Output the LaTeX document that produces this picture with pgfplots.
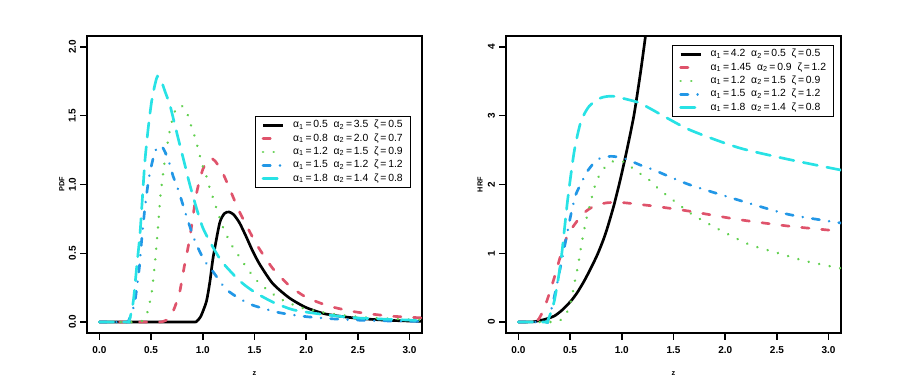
\documentclass[border=0pt]{standalone}
\usepackage{fontspec}
\setmainfont{Liberation Sans}
\usepackage{pgfplots}
\pgfplotsset{compat=1.18}

\definecolor{rred}{HTML}{DF536B}
\definecolor{rgreen}{HTML}{61D04F}
\definecolor{rblue}{HTML}{2297E6}
\definecolor{rcyan}{HTML}{28E2E5}

\pgfplotsset{
  rbase/.style={
    scale only axis, width=251.25pt, height=222.75pt,
    axis line style={line width=1.1pt},
    every tick/.style={black, line width=1.1pt},
    tick align=outside, major tick length=5pt,
    xtick pos=bottom, ytick pos=left,
    xmin=-0.12, xmax=3.12,
    xtick={0,0.5,1,1.5,2,2.5,3},
    xticklabels={0.0,0.5,1.0,1.5,2.0,2.5,3.0},
    tick label style={font=\bfseries\fontsize{7.5}{9}\selectfont},
    xticklabel style={anchor=center, yshift=-8pt},
    yticklabel style={xshift=-6pt, rotate=90, anchor=center},
    label style={font=\bfseries\fontsize{5.5}{6}\selectfont},
    xlabel={z},
    xlabel style={at={(axis description cs:0.5,-0.138)}, anchor=center},
    legend cell align=left,
    legend image code/.code={\draw[#1] (0pt,0pt) -- (15pt,0pt);},
    legend style={draw=black, line width=0.6pt, font=\fontsize{7.8}{8.5}\selectfont,
      inner xsep=5pt, inner ysep=2.5pt, row sep=1.6pt,
      nodes={inner sep=0.6pt, text height=5.6pt, text depth=1.6pt},
      /tikz/every odd column/.append style={column sep=6pt}},
    clip=true,
  },
  lt1/.style={black, line width=2pt, solid, smooth, tension=0.4},
  lt2/.style={rred, line width=2pt, dash pattern=on 5.5pt off 9.5pt, line cap=round, smooth, tension=0.4},
  lt3/.style={rgreen, line width=2pt, dash pattern=on 0.01pt off 8pt, line cap=round, smooth, tension=0.4},
  lt4/.style={rblue, line width=2pt, dash pattern=on 5.5pt off 7.25pt on 0.01pt off 7.25pt, line cap=round, smooth, tension=0.4},
  lt5/.style={rcyan, line width=2pt, dash pattern=on 10.75pt off 7.25pt, line cap=round, smooth, tension=0.4},
}

\begin{document}
\begin{tikzpicture}
\path[use as bounding box] (0,0) rectangle (677.25pt,285pt);

% PDF panel
\begin{axis}[rbase,
  at={(65.25pt,35.25pt)}, anchor=south west,
  ymin=-0.08, ymax=2.08,
  ytick={0,0.5,1,1.5,2},
  yticklabels={0.0,0.5,1.0,1.5,2.0},
  ylabel={PDF},
  ylabel style={at={(axis description cs:-0.075,0.5)}, anchor=center},
  legend style={at={(0.966,0.731)}, anchor=north east},
]
\addplot[lt1] coordinates {(0,0) (0.5,0) (0.9,0) (0.94,0.005) (0.98,0.04) (1.035,0.15) (1.07,0.30) (1.10,0.47) (1.163,0.72) (1.21,0.79) (1.255,0.80) (1.30,0.78) (1.356,0.72) (1.42,0.62) (1.48,0.52) (1.55,0.42) (1.676,0.28) (1.837,0.175) (2.0,0.105) (2.19,0.058) (2.48,0.028) (2.8,0.012) (3.12,0.005)};
\addplot[lt2] coordinates {(0,0) (0.55,0) (0.62,0.005) (0.68,0.03) (0.73,0.11) (0.777,0.22) (0.82,0.40) (0.874,0.61) (0.938,0.93) (1.0,1.11) (1.066,1.19) (1.12,1.17) (1.195,1.08) (1.27,0.95) (1.356,0.80) (1.516,0.57) (1.676,0.39) (1.837,0.265) (2.0,0.18) (2.22,0.116) (2.48,0.073) (2.8,0.044) (3.12,0.03)};
\addplot[lt3] coordinates {(0,0) (0.35,0) (0.42,0.01) (0.46,0.06) (0.505,0.21) (0.537,0.43) (0.569,0.71) (0.59,0.915) (0.623,1.12) (0.655,1.28) (0.688,1.42) (0.739,1.55) (0.78,1.575) (0.816,1.56) (0.858,1.50) (0.89,1.42) (0.922,1.35) (0.954,1.26) (0.996,1.14) (1.035,1.06) (1.066,0.976) (1.10,0.90) (1.195,0.69) (1.275,0.564) (1.34,0.49) (1.42,0.40) (1.50,0.32) (1.58,0.26) (1.74,0.172) (1.917,0.113) (2.03,0.09) (2.2,0.065) (2.415,0.044) (2.64,0.03) (2.93,0.02) (3.12,0.015)};
\addplot[lt4] coordinates {(0,0) (0.26,0) (0.28,0.007) (0.31,0.06) (0.344,0.152) (0.386,0.395) (0.408,0.59) (0.44,0.83) (0.473,1.02) (0.498,1.12) (0.537,1.24) (0.57,1.275) (0.60,1.28) (0.633,1.24) (0.681,1.145) (0.713,1.06) (0.761,0.964) (0.842,0.77) (0.89,0.66) (0.938,0.564) (1.018,0.443) (1.083,0.383) (1.163,0.298) (1.227,0.237) (1.34,0.177) (1.484,0.122) (1.74,0.068) (2.0,0.039) (2.32,0.02) (2.64,0.01) (3.12,0.004)};
\addplot[lt5] coordinates {(0,0) (0.27,0) (0.29,0.01) (0.328,0.152) (0.36,0.395) (0.392,0.637) (0.418,0.927) (0.44,1.17) (0.472,1.41) (0.505,1.605) (0.537,1.726) (0.562,1.787) (0.60,1.75) (0.633,1.68) (0.681,1.58) (0.729,1.436) (0.777,1.29) (0.826,1.145) (0.874,1.0) (0.938,0.83) (1.0,0.686) (1.083,0.564) (1.18,0.443) (1.29,0.35) (1.356,0.30) (1.42,0.26) (1.516,0.21) (1.676,0.145) (1.837,0.097) (1.93,0.08) (2.158,0.056) (2.48,0.03) (2.96,0.015) (3.12,0.012)};
\legend{α\textsubscript{1}\,=\,0.5\ \ α\textsubscript{2}\,=\,3.5\ \ ζ\,=\,0.5,
        α\textsubscript{1}\,=\,0.8\ \ α\textsubscript{2}\,=\,2.0\ \ ζ\,=\,0.7,
        α\textsubscript{1}\,=\,1.2\ \ α\textsubscript{2}\,=\,1.5\ \ ζ\,=\,0.9,
        α\textsubscript{1}\,=\,1.5\ \ α\textsubscript{2}\,=\,1.2\ \ ζ\,=\,1.2,
        α\textsubscript{1}\,=\,1.8\ \ α\textsubscript{2}\,=\,1.4\ \ ζ\,=\,0.8}
\end{axis}

% HRF panel
\begin{axis}[rbase,
  at={(379.5pt,35.25pt)}, anchor=south west,
  ymin=-0.16, ymax=4.16,
  ytick={0,1,2,3,4},
  yticklabels={0,1,2,3,4},
  ylabel={HRF},
  ylabel style={at={(axis description cs:-0.077,0.5)}, anchor=center},
  legend style={at={(0.979,0.97)}, anchor=north east},
]
\addplot[lt1] coordinates {(0,0) (0.15,0.003) (0.186,0.015) (0.26,0.04) (0.347,0.087) (0.42,0.17) (0.508,0.305) (0.57,0.43) (0.636,0.596) (0.70,0.78) (0.765,0.984) (0.82,1.19) (0.861,1.372) (0.926,1.71) (0.99,2.10) (1.054,2.535) (1.119,3.02) (1.183,3.65) (1.231,4.18) (1.26,4.5)};
\addplot[lt2] coordinates {(0,0) (0.15,0) (0.17,0.005) (0.2,0.05) (0.25,0.2) (0.3,0.42) (0.35,0.66) (0.411,0.98) (0.475,1.26) (0.556,1.445) (0.636,1.59) (0.733,1.686) (0.861,1.735) (1.02,1.735) (1.167,1.71) (1.31,1.686) (1.649,1.613) (2.13,1.49) (2.613,1.395) (3.12,1.32)};
\addplot[lt3] coordinates {(0,0) (0.3,0) (0.35,0.005) (0.395,0.015) (0.46,0.11) (0.508,0.3) (0.54,0.548) (0.579,0.84) (0.61,1.13) (0.653,1.47) (0.701,1.76) (0.749,2.026) (0.797,2.17) (0.861,2.29) (0.942,2.35) (1.038,2.32) (1.119,2.22) (1.28,2.05) (1.36,1.93) (1.52,1.745) (1.681,1.565) (1.938,1.347) (2.228,1.13) (2.50,1.008) (2.774,0.887) (3.12,0.78)};
\addplot[lt4] coordinates {(0,0) (0.26,0) (0.283,0.01) (0.33,0.25) (0.379,0.596) (0.444,1.08) (0.508,1.565) (0.556,1.856) (0.61,2.026) (0.668,2.195) (0.765,2.365) (0.894,2.41) (1.022,2.38) (1.183,2.28) (1.295,2.22) (1.649,2.0) (2.13,1.773) (2.613,1.565) (3.12,1.44)};
\addplot[lt5] coordinates {(0,0) (0.26,0) (0.283,0.015) (0.347,0.305) (0.411,0.887) (0.475,1.76) (0.54,2.485) (0.605,2.92) (0.685,3.14) (0.797,3.26) (0.909,3.285) (1.054,3.237) (1.167,3.19) (1.28,3.10) (1.649,2.80) (2.13,2.535) (2.613,2.365) (3.12,2.21)};
\legend{α\textsubscript{1}\,=\,4.2\ \ α\textsubscript{2}\,=\,0.5\ \ ζ\,=\,0.5,
        α\textsubscript{1}\,=\,1.45\ \ α\textsubscript{2}\,=\,0.9\ \ ζ\,=\,1.2,
        α\textsubscript{1}\,=\,1.2\ \ α\textsubscript{2}\,=\,1.5\ \ ζ\,=\,0.9,
        α\textsubscript{1}\,=\,1.5\ \ α\textsubscript{2}\,=\,1.2\ \ ζ\,=\,1.2,
        α\textsubscript{1}\,=\,1.8\ \ α\textsubscript{2}\,=\,1.4\ \ ζ\,=\,0.8}
\end{axis}
\end{tikzpicture}
\end{document}
